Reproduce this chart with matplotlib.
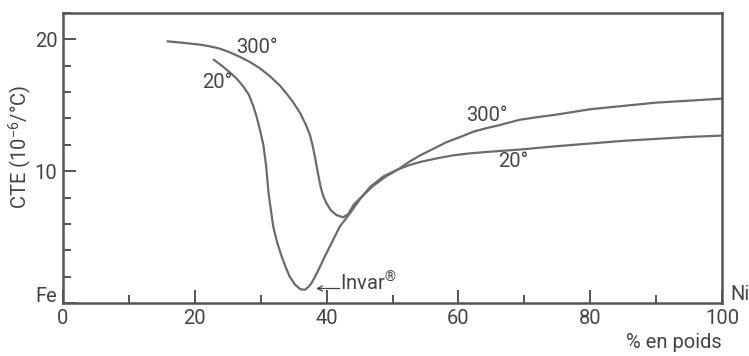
import matplotlib
matplotlib.use("Agg")
import matplotlib.pyplot as plt
from matplotlib.ticker import MultipleLocator

plt.rcParams['font.family'] = ['Roboto', 'DejaVu Sans']

# Data (wt% Ni, CTE 10^-6/°C)
ni_300 = [15.9, 18.0, 20.8, 22.3, 23.8, 25.4, 26.9, 28.4, 29.9, 31.4, 32.9, 33.9,
          34.9, 36.0, 37.0, 37.5, 37.9, 38.3, 38.7, 39.1, 39.5, 40.0, 40.7, 41.5,
          42.5, 43.3, 44.1, 45.6, 47.1, 49.0, 50.9, 52.5, 54.2, 56.2, 58.2, 60.3,
          62.3, 64.3, 66.3, 69.3, 72.0, 75.0, 80.0, 85.0, 90.0, 95.0, 100.0]
cte_300 = [19.85, 19.75, 19.6, 19.47, 19.3, 19.0, 18.66, 18.27, 17.8, 17.2, 16.5, 15.9,
           15.25, 14.4, 13.36, 12.7, 11.9, 10.9, 9.8, 8.8, 8.1, 7.55, 7.0, 6.67,
           6.5, 6.75, 7.45, 8.2, 8.9, 9.6, 10.15, 10.7, 11.2, 11.7, 12.2, 12.6,
           13.0, 13.27, 13.5, 13.9, 14.1, 14.3, 14.7, 14.95, 15.2, 15.35, 15.5]

ni_20 = [22.9, 24.1, 25.3, 26.4, 27.4, 28.2, 28.9, 29.4, 29.9, 30.4, 30.8, 31.2,
         31.9, 32.5, 33.2, 33.8, 34.4, 35.2, 36.0, 36.7, 37.2, 37.7, 38.3, 39.0,
         39.7, 40.5, 41.3, 42.0, 43.0, 43.6, 45.1, 46.6, 48.6, 50.9, 52.5, 54.2,
         56.7, 59.2, 61.7, 64.3, 69.3, 75.0, 80.0, 85.0, 90.0, 95.0, 100.0]
cte_20 = [18.45, 18.0, 17.5, 17.0, 16.4, 15.8, 14.9, 14.1, 13.1, 12.0, 10.5, 8.3,
          5.8, 4.6, 3.5, 2.7, 2.0, 1.4, 1.05, 1.0, 1.2, 1.5, 2.05, 2.75,
          3.5, 4.3, 5.1, 5.8, 6.45, 6.85, 7.9, 8.8, 9.6, 10.15, 10.45, 10.7,
          10.97, 11.2, 11.35, 11.46, 11.64, 11.9, 12.1, 12.3, 12.45, 12.6, 12.7]

x_ticks = [0, 20, 40, 60, 80, 100]
x_tick_labels = ['0', '20', '40', '60', '80', '100']
y_ticks = [0, 10, 20]
y_tick_labels = ['', '10', '20']

line_col = '#6b6b6b'
txt_col = '#444444'
axis_col = '#555555'
fs = 14.5

fig = plt.figure(figsize=(7.49, 3.56), dpi=100)
ax = fig.add_axes([63 / 749, 1 - 303 / 356, (722 - 63) / 749, (303 - 13) / 356])

ax.plot(ni_300, cte_300, color=line_col, lw=1.6, solid_joinstyle='round')
ax.plot(ni_20, cte_20, color=line_col, lw=1.6, solid_joinstyle='round')

ax.set_xlim(0, 100)
ax.set_ylim(0, 22)

ax.set_xticks(x_ticks)
ax.set_xticklabels(x_tick_labels)
ax.set_yticks(y_ticks)
ax.set_yticklabels(y_tick_labels)
ax.xaxis.set_minor_locator(MultipleLocator(10))
ax.yaxis.set_minor_locator(MultipleLocator(2))

ax.tick_params(which='both', direction='in', color=axis_col, width=1.4,
               labelsize=fs, labelcolor=txt_col)
ax.tick_params(which='major', length=9.5, pad=4)
ax.tick_params(which='minor', length=6)
ax.tick_params(axis='x', which='major', pad=4)

for s in ax.spines.values():
    s.set_color(axis_col)
    s.set_linewidth(1.8)

ax.text(29.4, 19.4, '300°', color=txt_col, fontsize=fs, ha='center', va='center')
ax.text(23.4, 16.7, '20°', color=txt_col, fontsize=fs, ha='center', va='center')
ax.text(64.3, 14.25, '300°', color=txt_col, fontsize=fs, ha='center', va='center')
ax.text(68.3, 10.75, '20°', color=txt_col, fontsize=fs, ha='center', va='center')
ax.text(42.1, 1.55, 'Invar$^{\\mathregular{®}}$', color=txt_col, fontsize=fs,
        ha='left', va='center')
ax.annotate('', xy=(38.4, 1.1), xytext=(42.0, 1.1),
            arrowprops=dict(arrowstyle='->', color=txt_col, lw=0.9,
                            shrinkA=0, shrinkB=0, mutation_scale=9))

fig.text(57 / 749, 1 - 296 / 356, 'Fe', color=txt_col, fontsize=fs,
         ha='right', va='center')
fig.text(730 / 749, 1 - 295 / 356, 'Ni', color=txt_col, fontsize=fs,
         ha='left', va='center')
fig.text(722 / 749, 1 - 342 / 356, '% en poids', color=txt_col, fontsize=fs,
         ha='right', va='center')
fig.text(20 / 749, 1 - 147 / 356, 'CTE (10$^{\\mathregular{-6}}$/°C)', color=txt_col,
         fontsize=fs, rotation=90, ha='center', va='center')

fig.savefig('out.png', dpi=100, facecolor='white')
